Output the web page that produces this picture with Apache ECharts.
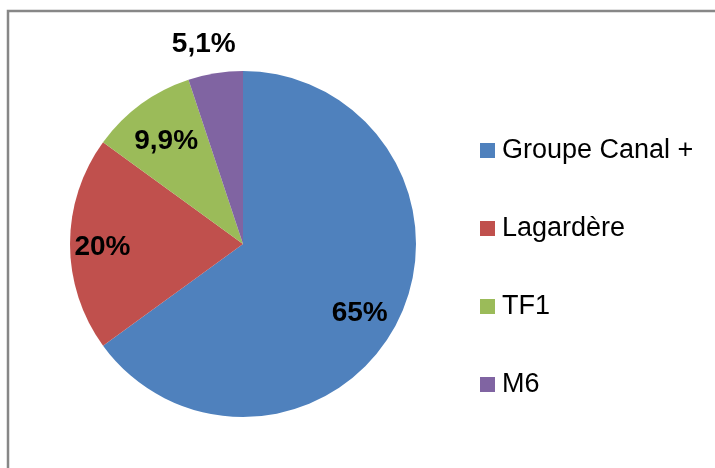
<!DOCTYPE html>
<html>
<head>
<meta charset="utf-8">
<script src="https://cdn.jsdelivr.net/npm/echarts@6/dist/echarts.min.js"></script>
<style>
  html, body { margin: 0; padding: 0; background: #fff; }
  #chart { width: 715px; height: 468px; }
</style>
</head>
<body>
<div id="chart"></div>
<script>
// chart data
var categories = ['Groupe Canal +', 'Lagardère', 'TF1', 'M6'];
var shares = [65, 20, 9.9, 5.1];
var colors = ['#4F81BD', '#C0504D', '#9BBB59', '#8064A2'];

// label nudges away from the slice midpoint (Excel best-fit placement)
var labelOffsets = [[37, 29], [-51, 3], [-24, -30], [-25, -111]];

var chart = echarts.init(document.getElementById('chart'));

var pieData = categories.map(function (name, i) {
  return {
    name: name,
    value: shares[i],
    itemStyle: { color: colors[i] },
    label: { offset: labelOffsets[i] }
  };
});

chart.setOption({
  animation: false,
  backgroundColor: '#fff',
  graphic: [{
    type: 'rect',
    shape: { x: 8, y: 11, width: 800, height: 600 },
    style: { fill: 'none', stroke: '#878787', lineWidth: 2.5 },
    silent: true
  }],
  legend: {
    orient: 'vertical',
    left: 475,
    top: 132,
    icon: 'rect',
    itemWidth: 15,
    itemHeight: 15,
    itemGap: 51,
    data: categories,
    textStyle: {
      fontFamily: 'Liberation Sans',
      fontSize: 27,
      color: '#000',
      padding: [0, 0, 0, 2]
    }
  },
  series: [{
    type: 'pie',
    center: [243, 244],
    radius: [0, 173],
    startAngle: 90,
    clockwise: true,
    avoidLabelOverlap: false,
    itemStyle: { borderWidth: 0 },
    label: {
      show: true,
      position: 'inside',
      fontFamily: 'Liberation Sans',
      fontWeight: 'bold',
      fontSize: 28,
      color: '#000',
      formatter: function (p) {
        return String(p.value).replace('.', ',') + '%';
      }
    },
    labelLine: { show: false },
    emphasis: { disabled: true },
    data: pieData
  }]
});
</script>
</body>
</html>
